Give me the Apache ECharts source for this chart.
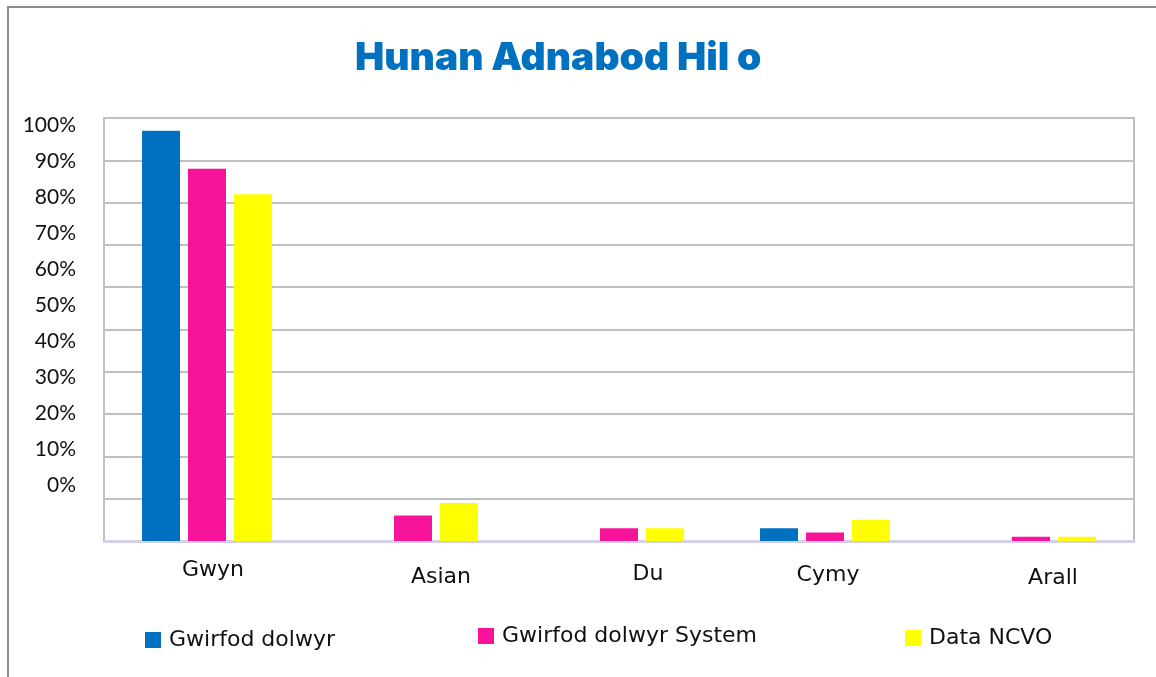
<!DOCTYPE html>
<html>
<head>
<meta charset="utf-8">
<title>Hunan Adnabod Hil o</title>
<script src="https://cdn.jsdelivr.net/npm/echarts@6/dist/echarts.min.js"></script>
<style>
  html, body { margin: 0; padding: 0; background: #fff; }
  #frame { position: absolute; left: 7px; top: 6px; right: 0; bottom: 0;
           border-top: 2px solid #8c8c8c; border-left: 2px solid #8c8c8c; }
  #chart { position: absolute; left: 0; top: 0; width: 1156px; height: 677px; }
</style>
</head>
<body>
<div id="frame"></div>
<div id="chart"></div>
<script>
  // data
  const categories = ['Gwyn', 'Asian', 'Du', 'Cymy', 'Arall'];
  const seriesNames = ['Gwirfod dolwyr', 'Gwirfod dolwyr System', 'Data NCVO'];
  const gwirfoddolwyr = [97, null, null, 3, null];
  const gwirfoddolwyrSystem = [88, 6, 3, 2, 1];
  const dataNcvo = [82, 9, 3, 5, 1];
  const tickLabels = ['0%', '10%', '20%', '30%', '40%', '50%', '60%', '70%', '80%', '90%', '100%'];

  const colors = ['#0070c0', '#f7149a', '#ffff00'];
  const font = 'DejaVu Sans';

  // the category labels sit a little off-centre in the original
  const labelShift = {
    Gwyn: { dx: 6, dy: 0 },
    Asian: { dx: 28, dy: 7 },
    Du: { dx: 29, dy: 4 },
    Cymy: { dx: 3, dy: 5 },
    Arall: { dx: 22, dy: 8 }
  };
  const rich = {};
  categories.forEach((c, i) => {
    const s = labelShift[c];
    rich['c' + i] = {
      fontFamily: font, fontSize: 22, color: '#111',
      padding: [s.dy, 0, 0, 2 * s.dx]
    };
  });

  const chart = echarts.init(document.getElementById('chart'));

  const option = {
    animation: false,
    title: {
      text: 'Hunan Adnabod Hil o',
      left: 350,
      top: 34,
      textStyle: {
        fontFamily: 'Inter', fontWeight: 900, fontSize: 39,
        color: '#0070c0'
      }
    },
    legend: seriesNames.map((name, i) => ({
      data: [name],
      left: [140, 473, 900][i],
      top: [624, 620, 622][i],
      icon: 'rect',
      itemWidth: 16,
      itemHeight: 16,
      selectedMode: false,
      textStyle: { fontFamily: font, fontSize: 22, color: '#111', padding: [4, 0, 0, 3] }
    })),
    grid: [
      {
        left: 104, right: 22, top: 118, bottom: 136,
        show: true, borderColor: '#c0c0c0', borderWidth: 2, backgroundColor: '#fff'
      },
      // holds only the percent labels, which sit off the gridlines in the original
      { left: 84, width: 10, top: 125, bottom: 192 }
    ],
    xAxis: [
      {
        type: 'category',
        data: categories,
        axisLine: { lineStyle: { color: '#d4d0e8', width: 3 } },
        axisTick: { show: false },
        axisLabel: {
          margin: 18,
          formatter: (v) => '{c' + categories.indexOf(v) + '|' + v + '}',
          rich: rich
        }
      },
      { type: 'value', gridIndex: 1, min: 0, max: 1, show: false }
    ],
    yAxis: [
      {
        type: 'value', min: 0, max: 100, interval: 10,
        axisLabel: { show: false },
        axisLine: { show: false },
        axisTick: { show: false },
        splitLine: { lineStyle: { color: '#c0c0c0', width: 2 } }
      },
      {
        type: 'value', gridIndex: 1, min: 0, max: 100, interval: 10,
        axisLine: { show: false },
        axisTick: { show: false },
        splitLine: { show: false },
        axisLabel: {
          margin: 8,
          fontFamily: 'Lato', fontSize: 21, color: '#111',
          formatter: (v) => tickLabels[Math.round(v / 10)]
        }
      }
    ],
    series: [gwirfoddolwyr, gwirfoddolwyrSystem, dataNcvo].map((d, i) => ({
      name: seriesNames[i],
      type: 'bar',
      data: d,
      barWidth: 38,
      barGap: '21%',
      itemStyle: { color: colors[i] }
    }))
  };

  chart.setOption(option);
</script>
</body>
</html>
